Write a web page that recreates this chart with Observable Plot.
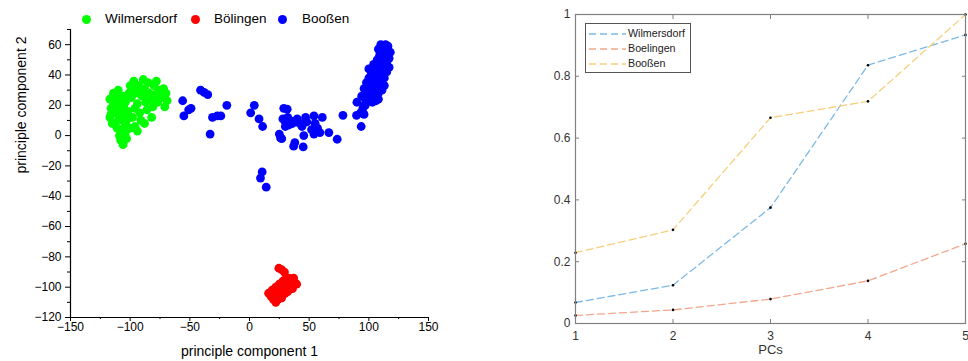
<!DOCTYPE html>
<html>
<head>
<meta charset="utf-8">
<script src="https://cdn.jsdelivr.net/npm/d3@7"></script>
<script src="https://cdn.jsdelivr.net/npm/@observablehq/plot@0.6"></script>
<style>
  html, body { margin: 0; padding: 0; background: #fff; }
  #wrap { position: relative; width: 968px; height: 361px; overflow: hidden; font-family: "Liberation Sans", Arial, sans-serif; }
  #left, #right { position: absolute; top: 0; }
  #left { left: 0; }
  #right { left: 520px; }
  .lg1 { position: absolute; top: 10px; left: 0; font-size: 13.5px; color: #000; }
  .lg1 .item { position: absolute; white-space: nowrap; line-height: 18px; }
  .lg1 .dot { position: absolute; width: 9px; height: 9px; border-radius: 50%; top: 4.5px; }
  .lg2 { position: absolute; left: 585px; top: 23px; width: 104px; height: 48px; border: 1px solid #555; background: #fff; font-size: 10.7px; color: #222; }
  .lg2 .row { position: absolute; left: 3px; height: 14px; line-height: 14px; white-space: nowrap; }
  .lg2 svg { vertical-align: middle; margin-right: 2px; }
</style>
</head>
<body>
<div id="wrap">
  <div id="left"></div>
  <div id="right"></div>
  <div class="lg1" id="lg1"></div>
  <div class="lg2" id="lg2"></div>
</div>
<script>
// ---------- Left panel data (PCA scatter) ----------
const scatterNames = ["Wilmersdorf", "Bölingen", "Booßen"];
const scatterColors = ["#00ff00", "#ff0000", "#0000ff"];

const wilmersdorfPts = [
  [-117,24],[-116,18],[-117,12],[-115,8],[-114,28],[-112,22],[-112,15],[-111,5],[-110,30],[-110,10],
  [-109,0],[-108,-3],[-106,-5],[-107,4],[-108,19],[-106,26],[-105,12],[-104,8],[-104,2],[-103,-2],
  [-104,22],[-102,16],[-101,28],[-113,26],[-114,20],[-116,14],[-111,17],[-109,24],[-107,14],[-105,18],
  [-103,6],[-102,11],[-100,5],[-99,25],[-98,31],[-97,36],[-95,28],[-94,21],[-93,33],[-92,15],
  [-91,10],[-90,26],[-89,37],[-88,31],[-87,22],[-86,17],[-85,35],[-84,28],[-83,24],[-82,12],
  [-81,19],[-80,33],[-79,27],[-78,36],[-77,22],[-76,30],[-74,25],[-72,31],[-70,28],[-69,23],
  [-71,19],[-96,6],[-94,3],[-98,12],[-96,18],[-100,33],[-91,30],[-88,8],[-106,-6]
];
const boelingenPts = [
  [24.6,-87.5],[27,-88.5],[29.3,-90],[16,-104],[18,-106],[19,-102],[20,-108],[21,-104],[22,-110],[22,-100],
  [23,-106],[24,-102],[24,-108],[25,-98],[26,-104],[26,-100],[27,-107],[28,-96],[28,-102],[29,-99],
  [30,-104],[30,-95],[31,-100],[32,-97],[32,-103],[33,-94],[34,-99],[35,-96],[36,-101],[38,-97],
  [39.5,-98],[37,-94],[20,-105],[25,-105],[28,-105]
];
const boossenPts = [
  [-56,23],[-55,13],[-51,17],[-49,18],[-41,30],[-38,28.5],[-35,27],[-31,12],[-27,13],[-24,13],
  [-19,20],[-33,1],[1,15],[4,20],[8,11],[11,6],[10.6,-24],[9.2,-28],[14,-34],[28.7,18],
  [31.6,17.4],[28,11],[30,9],[32,12],[34,10],[36,8],[30,6],[33,7],[25,1],[26,-1.5],
  [27,-2],[38,-4.6],[37,-7],[45,-7.5],[45.5,0],[40,11],[42,8],[44,6],[47,12],[48,9],
  [52,4],[54,1],[55,8],[57,5],[54,13],[59,2],[61,12],[66.5,2],[73.5,-2.4],[78.3,13.4],
  [89.7,13.4],[93.6,6],[90,22],[93,15],[95,18],[96,14],[97,20],
  [94,26],[96,31],[97,24],[98,35],[99,29],[100,38],[100,44],[101,32],[102,27],[102,40],
  [103,35],[104,47],[104,30],[105,42],[106,37],[106,23],[107,50],[107,33],[108,44],[108,28],
  [109,39],[109,53],[110,47],[110,35],[111,42],[111,30],[112,50],[112,56],[113,45],[113,38],
  [114,53],[114,60],[115,48],[115,42],[116,56],[116,59],[117,51],[117,45],[118,55],[110,60],
  [108,57],[106,45],[103,22],[100,24],[96,20],[113,33],[108,24],[105,27]
];
const xMajorTicks = [-150,-100,-50,0,50,100,150];
const xMinorTicks = [-125,-75,-25,25,75,125];
const yMajorTicks = [-120,-100,-80,-60,-40,-20,0,20,40,60];
const yMinorTicks = [-110,-90,-70,-50,-30,-10,10,30,50,70];

// ---------- Right panel data (cumulative curves) ----------
const pcs = [1,2,3,4,5];
const wilmersdorfVals = [0.068,0.124,0.375,0.836,0.934];
const boelingenVals   = [0.026,0.044,0.079,0.138,0.258];
const boossenVals     = [0.229,0.303,0.666,0.719,1.0];
const lineNames  = ["Wilmersdorf","Boelingen","Booßen"];
const lineColors = ["#7cb9e6","#f3a68b","#f8cf7c"];
const yTicksRight = [0,0.2,0.4,0.6,0.8,1];

// ---------- Build tables ----------
const scatterTable = [
  ...wilmersdorfPts.map(([x,y]) => ({x, y, g: scatterNames[0]})),
  ...boelingenPts.map(([x,y]) => ({x, y, g: scatterNames[1]})),
  ...boossenPts.map(([x,y]) => ({x, y, g: scatterNames[2]}))
];
const seriesVals = [wilmersdorfVals, boelingenVals, boossenVals];
const lineTable = seriesVals.flatMap((vals, i) => pcs.map((p, j) => ({pc: p, v: vals[j], s: lineNames[i]})));

const minusFmt = d => d < 0 ? "\u2212" + Math.abs(d) : String(d);

// ---------- Left plot ----------
const leftPlot = Plot.plot({
  width: 440, height: 361,
  marginLeft: 70, marginRight: 12, marginTop: 29, marginBottom: 44,
  style: {fontFamily: "'Liberation Sans', Arial, sans-serif", fontSize: "12px", color: "#000", background: "transparent", overflow: "visible"},
  x: {domain: [-150,150]},
  y: {domain: [-120,70]},
  color: {domain: scatterNames, range: scatterColors},
  marks: [
    Plot.dot(scatterTable, {x: "x", y: "y", fill: "g", r: 4.4}),
    Plot.ruleX([-150], {stroke: "#000", strokeWidth: 1.2}),
    Plot.ruleY([-120], {stroke: "#000", strokeWidth: 1.2}),
    Plot.axisX({ticks: xMajorTicks, tickSize: 4, tickPadding: 1, label: null, stroke: "#000", tickFormat: minusFmt}),
    Plot.axisX({ticks: xMinorTicks, tickSize: 2, text: null, label: null, stroke: "#000"}),
    Plot.axisY({ticks: yMajorTicks, tickSize: 5, tickPadding: 4, label: null, stroke: "#000", tickFormat: minusFmt}),
    Plot.axisY({ticks: yMinorTicks, tickSize: 3, text: null, label: null, stroke: "#000"}),
    Plot.text(["principle component 1"], {frameAnchor: "bottom", dy: 38, fontSize: 14, fill: "#000"}),
    Plot.text(["principle component 2"], {frameAnchor: "left", dx: -49, rotate: -90, fontSize: 14, fill: "#000"})
  ]
});
document.getElementById("left").appendChild(leftPlot);

// ---------- Right plot ----------
const rightPlot = Plot.plot({
  width: 448, height: 361,
  marginLeft: 55, marginRight: 3, marginTop: 14, marginBottom: 38,
  style: {fontFamily: "'Liberation Sans', Arial, sans-serif", fontSize: "12px", color: "#333", background: "transparent", overflow: "visible"},
  x: {domain: [1,5]},
  y: {domain: [0,1]},
  color: {domain: lineNames, range: lineColors},
  marks: [
    Plot.line(lineTable, {x: "pc", y: "v", z: "s", stroke: "s", strokeWidth: 1.3, strokeDasharray: "7,4"}),
    Plot.dot(lineTable, {x: "pc", y: "v", r: 1.3, fill: "#000"}),
    Plot.frame({stroke: "#808080", strokeWidth: 1.2}),
    Plot.axisX({ticks: pcs, tickSize: 4, text: null, label: null, anchor: "bottom", dy: -4, stroke: "#808080"}),
    Plot.axisX({ticks: pcs, tickSize: 4, text: null, label: null, anchor: "top", dy: 4, stroke: "#808080"}),
    Plot.axisY({ticks: yTicksRight, tickSize: 4, text: null, label: null, anchor: "left", dx: 4, stroke: "#808080"}),
    Plot.axisY({ticks: yTicksRight, tickSize: 4, text: null, label: null, anchor: "right", dx: -4, stroke: "#808080"}),
    Plot.axisX({ticks: pcs, tickSize: 0, tickPadding: 8, label: null, anchor: "bottom", fill: "#333", tickFormat: d => String(d)}),
    Plot.axisY({ticks: yTicksRight, tickSize: 0, tickPadding: 5, label: null, anchor: "left", fill: "#333", tickFormat: d => String(d)}),
    Plot.text(["PCs"], {frameAnchor: "bottom", dy: 30, fontSize: 13, fill: "#333"})
  ]
});
document.getElementById("right").appendChild(rightPlot);

// ---------- Legends ----------
const lg1 = document.getElementById("lg1");
const lg1Pos = [[82, 105], [191, 214], [278, 302]];
scatterNames.forEach((n, i) => {
  const dot = document.createElement("span");
  dot.className = "dot";
  dot.style.left = lg1Pos[i][0] + "px";
  dot.style.background = scatterColors[i];
  lg1.appendChild(dot);
  const t = document.createElement("span");
  t.className = "item";
  t.style.left = lg1Pos[i][1] + "px";
  t.textContent = n;
  lg1.appendChild(t);
});

const lg2 = document.getElementById("lg2");
lineNames.forEach((n, i) => {
  const row = document.createElement("div");
  row.className = "row";
  row.style.top = (2 + i * 15) + "px";
  row.innerHTML = `<svg width="37" height="6"><line x1="0" y1="3" x2="37" y2="3" stroke="${lineColors[i]}" stroke-width="1.3" stroke-dasharray="7,4"/></svg><span>${n}</span>`;
  lg2.appendChild(row);
});
</script>
</body>
</html>
